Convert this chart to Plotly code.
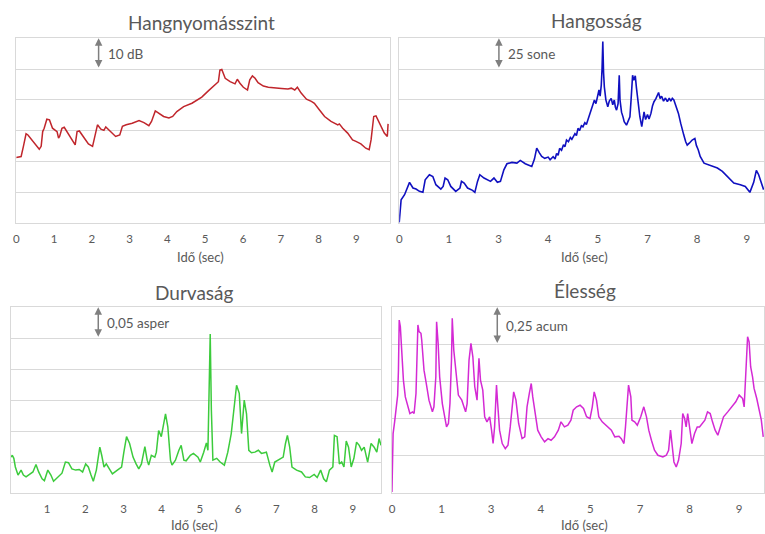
import plotly.graph_objects as go

# ---------------- data ----------------
# Hangnyomásszint (dB)
t_spl = [0, 0.13, 0.19, 0.26, 0.31, 0.44, 0.53, 0.61, 0.66, 0.70, 0.74, 0.81, 0.88, 0.96, 1.08, 1.12, 1.15,
         1.21, 1.27, 1.36, 1.49, 1.56, 1.61, 1.67, 1.80, 1.91, 2.02, 2.09, 2.15, 2.24, 2.32, 2.37, 2.46, 2.54,
         2.63, 2.74, 2.81, 2.91, 3.07, 3.25, 3.38, 3.51, 3.58, 3.68, 3.77, 3.90, 4.04, 4.14, 4.25, 4.43, 4.65,
         4.91, 5.09, 5.26, 5.35, 5.39, 5.44, 5.53, 5.66, 5.79, 5.85, 5.92, 6.01, 6.12, 6.18, 6.25, 6.32, 6.40,
         6.54, 6.67, 6.84, 7.02, 7.19, 7.28, 7.37, 7.44, 7.54, 7.68, 7.81, 7.89, 8.02, 8.16, 8.33, 8.51, 8.55,
         8.64, 8.77, 8.90, 8.99, 9.12, 9.25, 9.34, 9.39, 9.46, 9.52, 9.61, 9.74, 9.82, 9.84]
spl_db = [61.3, 61.6, 64.9, 69.0, 68.6, 66.5, 65.2, 64.0, 64.9, 69.7, 70.8, 73.7, 73.5, 70.8, 69.7, 67.6, 68.2,
          70.8, 71.1, 69.2, 66.5, 65.4, 69.7, 69.9, 67.6, 65.7, 64.9, 69.2, 71.9, 70.5, 70.1, 71.2, 70.1, 69.0,
          68.1, 68.6, 71.4, 71.9, 72.4, 73.3, 72.6, 71.6, 73.0, 76.4, 75.7, 74.6, 74.1, 74.6, 76.2, 77.8, 78.9,
          80.9, 83.0, 84.9, 85.9, 89.7, 89.9, 87.0, 85.9, 85.2, 86.7, 85.4, 84.1, 83.2, 86.5, 87.8, 87.0, 85.6,
          84.5, 84.1, 83.8, 83.7, 83.5, 83.8, 83.2, 84.1, 82.2, 80.2, 79.5, 78.9, 76.8, 74.6, 73.0, 71.9, 72.2,
          70.8, 69.2, 67.0, 66.5, 65.7, 64.3, 63.8, 67.0, 74.6, 74.8, 72.4, 69.2, 68.1, 72.2]

# Hangosság (sone)
t_loud = [0, 0.03, 0.05, 0.14, 0.23, 0.27, 0.36, 0.44, 0.53, 0.62,
          0.68, 0.79, 0.88, 0.96, 1.09, 1.15, 1.20, 1.27, 1.35, 1.48,
          1.59, 1.63, 1.70, 1.79, 1.92, 1.98, 2.05, 2.11, 2.22, 2.30,
          2.39, 2.48, 2.57, 2.65, 2.74, 2.82, 2.95, 3.08, 3.17, 3.30,
          3.47, 3.54,
          3.60, 3.67, 3.73, 3.81, 3.90, 3.95, 4.03, 4.08, 4.12, 4.16,
          4.20, 4.25, 4.30, 4.34, 4.38, 4.43, 4.48, 4.52, 4.55, 4.60,
          4.64, 4.68, 4.72, 4.77, 4.81, 4.86, 4.90, 4.94, 4.98, 5.03,
          5.07, 5.11, 5.15, 5.19, 5.23, 5.26, 5.29, 5.31, 5.33, 5.35,
          5.37, 5.41, 5.46, 5.50, 5.55, 5.59, 5.63, 5.66, 5.69, 5.73,
          5.76, 5.78, 5.82, 5.86, 5.89, 5.95, 6.00, 6.04, 6.07, 6.11,
          6.14, 6.18, 6.21, 6.24, 6.27, 6.30, 6.35, 6.38, 6.41, 6.45,
          6.50, 6.54, 6.59, 6.63, 6.67, 6.72, 6.76, 6.79, 6.83, 6.87,
          6.92, 6.97, 7.02, 7.07, 7.11, 7.15, 7.19, 7.22, 7.27, 7.31,
          7.37, 7.41, 7.45, 7.50, 7.54, 7.60, 7.67, 7.74, 7.78, 7.83,
          7.88, 7.98, 8.15, 8.33, 8.46, 8.59, 8.76, 8.93, 9.06, 9.18,
          9.28, 9.35, 9.41, 9.54]
loud_sone = [0.5, 10.8, 18.9, 23.0, 31.1, 33.0, 28.4, 27.6, 25.7, 24.9,
             35.1, 39.2, 37.8, 31.1, 27.6, 29.7, 36.5, 35.1, 29.7, 25.7,
             28.4, 33.8, 32.4, 28.4, 26.5, 24.9, 33.8, 39.2, 36.5, 35.1,
             33.8, 36.5, 33.0, 33.8, 43.2, 48.1, 49.2, 48.6, 50.8, 48.1,
             45.9, 51.9,
             60.8, 57.0, 54.1, 52.5, 53.5, 51.4, 53.8, 52.0, 56.5, 55.0,
             60.6, 59.0, 63.5, 62.0, 67.4, 66.0, 69.5, 68.0, 70.0, 72.5,
             71.0, 76.9, 75.0, 79.0, 78.2, 81.5, 80.0, 84.0, 86.3, 92.0,
             95.0, 99.8, 97.0, 104.0, 108.0, 103.0, 112.0, 125.0, 147.3, 122.0,
             110.6, 100.0, 94.4, 99.0, 101.2, 96.0, 99.8, 94.0, 91.7, 97.0,
             120.0, 100.0, 90.0, 86.0, 82.2, 79.5, 84.0, 86.3, 100.0, 120.0,
             116.0, 119.5, 110.0, 102.5, 92.0, 86.3, 78.2, 85.0, 90.3, 84.0,
             88.0, 84.5, 89.0, 95.0, 98.5, 101.0, 103.5, 106.0, 101.0, 103.0,
             99.0, 101.5, 98.5, 101.5, 99.0, 101.2, 100.0, 97.2, 93.0, 89.0,
             80.9, 77.0, 71.4, 66.0, 63.3, 65.0, 67.4, 68.7, 63.0, 59.3,
             54.0, 48.6, 46.5, 44.6, 41.9, 37.8, 32.4, 31.1, 29.7, 24.9,
             33.0, 42.7, 39.2, 27.0]

# Durvaság (asper)
t_rough = [0.06, 0.09, 0.13, 0.17, 0.24, 0.32, 0.38, 0.45, 0.54, 0.63,
           0.71, 0.78, 0.87, 0.93, 1.02, 1.10, 1.17, 1.28, 1.39, 1.48,
           1.56, 1.65, 1.75, 1.84, 1.93, 2.01, 2.08, 2.15, 2.21, 2.29,
           2.38, 2.43, 2.49, 2.55, 2.62, 2.71, 2.84, 2.95, 3.01, 3.08,
           3.16, 3.25, 3.33, 3.40, 3.47, 3.56, 3.62, 3.66, 3.73, 3.82,
           3.86, 3.92, 3.99, 4.10, 4.16, 4.23, 4.27, 4.36, 4.45, 4.51,
           4.58, 4.64, 4.75, 4.83, 4.95, 5.01, 5.10, 5.17, 5.21, 5.25,
           5.27, 5.30, 5.34, 5.44, 5.53, 5.64, 5.73, 5.82, 5.89, 5.96,
           6.03, 6.09, 6.16, 6.22, 6.28, 6.35, 6.44, 6.53, 6.61, 6.74,
           6.83, 6.89, 6.96, 7.09, 7.18, 7.24, 7.29, 7.35, 7.41, 7.53,
           7.66, 7.76, 7.87, 7.99, 8.07, 8.16, 8.24, 8.31, 8.39, 8.48,
           8.52, 8.59, 8.65, 8.71, 8.77, 8.83, 8.89, 8.96, 9.03, 9.10,
           9.17, 9.23, 9.30, 9.39, 9.48, 9.56, 9.63, 9.69, 9.74]
rough_asper = [0.058, 0.061, 0.056, 0.042, 0.029, 0.037, 0.029, 0.026, 0.030, 0.034,
               0.046, 0.034, 0.023, 0.020, 0.037, 0.029, 0.019, 0.026, 0.032, 0.050,
               0.049, 0.039, 0.037, 0.038, 0.034, 0.047, 0.042, 0.029, 0.019, 0.037,
               0.074, 0.061, 0.042, 0.047, 0.039, 0.031, 0.037, 0.042, 0.066, 0.091,
               0.080, 0.058, 0.047, 0.039, 0.047, 0.075, 0.053, 0.045, 0.061, 0.058,
               0.066, 0.101, 0.091, 0.128, 0.107, 0.053, 0.045, 0.053, 0.069, 0.077,
               0.053, 0.052, 0.061, 0.064, 0.058, 0.050, 0.066, 0.081, 0.069, 0.255,
               0.257, 0.134, 0.053, 0.056, 0.050, 0.045, 0.066, 0.096, 0.134, 0.174,
               0.161, 0.096, 0.150, 0.128, 0.069, 0.065, 0.066, 0.069, 0.064, 0.066,
               0.045, 0.034, 0.050, 0.054, 0.058, 0.080, 0.093, 0.074, 0.042, 0.037,
               0.034, 0.026, 0.025, 0.030, 0.025, 0.037, 0.023, 0.018, 0.037, 0.042,
               0.093, 0.091, 0.047, 0.050, 0.042, 0.084, 0.074, 0.042, 0.056, 0.082,
               0.077, 0.069, 0.074, 0.050, 0.080, 0.074, 0.066, 0.088, 0.077]

# Élesség (acum)
t_sharp = [0, 0.02, 0.03, 0.07, 0.10, 0.15, 0.17, 0.19, 0.22, 0.26,
           0.30, 0.35, 0.41, 0.47, 0.54, 0.58, 0.63, 0.65, 0.68, 0.71,
           0.76, 0.78, 0.84, 0.90, 0.97, 1.06, 1.10, 1.15, 1.17, 1.21,
           1.25, 1.32, 1.39, 1.43, 1.48, 1.52, 1.56, 1.58, 1.62, 1.67,
           1.74, 1.83, 1.89, 1.93, 1.97, 2.02, 2.07, 2.12, 2.17, 2.23,
           2.28, 2.32, 2.38, 2.43, 2.49, 2.56, 2.61, 2.65, 2.69, 2.74,
           2.77, 2.82, 2.89, 2.97, 3.04, 3.10, 3.19, 3.25, 3.32, 3.41,
           3.48, 3.54, 3.60, 3.65, 3.69, 3.75, 3.82, 3.91, 4.00, 4.09,
           4.17, 4.26, 4.36, 4.43, 4.52, 4.61, 4.69, 4.75, 4.84, 4.93,
           5.02, 5.10, 5.19, 5.25, 5.30, 5.36, 5.42, 5.51, 5.62, 5.75,
           5.84, 5.95, 6.01, 6.08, 6.12, 6.17, 6.20, 6.26, 6.29, 6.36,
           6.43, 6.52, 6.60, 6.67, 6.73, 6.80, 6.88, 6.97, 7.10, 7.19,
           7.25, 7.30, 7.34, 7.39, 7.45, 7.51, 7.58, 7.62, 7.67, 7.71,
           7.75, 7.80, 7.86, 7.93, 8.00, 8.06, 8.14, 8.20, 8.27, 8.34,
           8.40, 8.47, 8.54, 8.60, 8.69, 8.80, 8.90, 9.01, 9.10, 9.19,
           9.23, 9.28, 9.32, 9.36, 9.40, 9.45, 9.49, 9.56, 9.62, 9.68,
           9.73]
sharp_acum = [0.007, 0.243, 0.40, 0.479, 0.535, 0.659, 0.827, 1.164, 1.12, 0.94,
              0.76, 0.647, 0.591, 0.535, 0.546, 0.535, 0.67, 0.872, 1.131, 1.086,
              1.075, 1.03, 0.827, 0.737, 0.625, 0.546, 0.58, 0.782, 1.153, 1.007,
              0.782, 0.602, 0.49, 0.445, 0.468, 0.602, 0.895, 1.176, 0.962, 0.827,
              0.659, 0.625, 0.58, 0.546, 0.602, 0.895, 1.007, 0.917, 0.715, 0.625,
              0.906, 0.76, 0.692, 0.513, 0.479, 0.513, 0.423, 0.333, 0.445, 0.726,
              0.602, 0.423, 0.333, 0.299, 0.321, 0.445, 0.681, 0.625, 0.468, 0.366,
              0.378, 0.58, 0.67, 0.737, 0.647, 0.535, 0.423, 0.378, 0.344, 0.366,
              0.355, 0.378, 0.423, 0.479, 0.445, 0.456, 0.49, 0.557, 0.58, 0.591,
              0.569, 0.513, 0.501, 0.58, 0.681, 0.625, 0.513, 0.479, 0.456, 0.423,
              0.378, 0.382, 0.366, 0.333, 0.445, 0.602, 0.726, 0.647, 0.49, 0.479,
              0.456, 0.513, 0.58, 0.513, 0.423, 0.355, 0.288, 0.254, 0.243, 0.254,
              0.288, 0.423, 0.333, 0.209, 0.175, 0.22, 0.333, 0.535, 0.501, 0.445,
              0.535, 0.445, 0.333, 0.4, 0.445, 0.445, 0.468, 0.49, 0.546, 0.535,
              0.479, 0.423, 0.389, 0.445, 0.513, 0.546, 0.58, 0.614, 0.659, 0.636,
              0.58, 0.827, 1.052, 1.018, 0.85, 0.782, 0.704, 0.636, 0.557, 0.49,
              0.378]

# tick labels
left_tickvals = [0, 1, 2, 3, 4, 5, 6, 7, 8, 9]
left_ticktext = ["0", "1", "2", "3", "4", "5", "6", "7", "8", "9"]
right_tickvals = [0, 1.3, 2.6, 3.9, 5.2, 6.5, 7.8, 9.1]
right_ticktext = ["0", "1", "3", "4", "5", "7", "8", "9"]

titles = ["Hangnyomásszint", "Hangosság", "Durvaság", "Élesség"]
scale_labels = ["10 dB", "25 sone", "0,05 asper", "0,25 acum"]
x_title = "Idő (sec)"

# ---------------- layout helpers ----------------
W, H = 765, 534
FONT = "Lato"
TXT = "#595959"
GRID = "#D9D9D9"


def fx(p):
    return p / W


def fy(p):
    return 1 - p / H


fig = go.Figure()

series = [
    (t_spl, spl_db, "#C0262C", 1.5, "x", "y"),
    (t_loud, loud_sone, "#1010C0", 1.6, "x2", "y2"),
    (t_rough, rough_asper, "#3CCB3C", 1.5, "x3", "y3"),
    (t_sharp, sharp_acum, "#D42AD4", 1.5, "x4", "y4"),
]
for xs, ys, col, lw, xa, ya in series:
    fig.add_trace(go.Scatter(x=xs, y=ys, mode="lines", xaxis=xa, yaxis=ya,
                             line=dict(color=col, width=lw), hoverinfo="skip",
                             showlegend=False))


def xaxis(dom, rng, tv, tt, anchor):
    return dict(domain=dom, range=rng, tickvals=tv, ticktext=tt, anchor=anchor,
                showgrid=False, zeroline=False, showline=True, linecolor=GRID,
                linewidth=1, mirror=True, ticks="", ticklabelstandoff=5,
                tickfont=dict(family=FONT, size=11.5, color=TXT))


def yaxis(dom, rng, dtick, anchor):
    return dict(domain=dom, range=rng, dtick=dtick, tick0=rng[0], anchor=anchor,
                showgrid=True, gridcolor=GRID, gridwidth=1, zeroline=False,
                showline=True, linecolor=GRID, linewidth=1, mirror=True,
                showticklabels=False, ticks="")


top_y = [fy(223), fy(38.3)]
bot_y = [fy(493), fy(307.3)]

y_specs = [([40, 100], 10), ([0, 150], 25), ([0, 0.3], 0.05), ([0, 1.25], 0.25)]

fig.update_layout(
    width=W, height=H,
    margin=dict(l=0, r=0, t=0, b=0),
    paper_bgcolor="white", plot_bgcolor="white",
    xaxis=xaxis([fx(13.3), fx(389)], [0, 9.89], left_tickvals, left_ticktext, "y"),
    yaxis=yaxis(top_y, *y_specs[0], "x"),
    xaxis2=xaxis([fx(398.3), 1.0], [0, 9.55], right_tickvals, right_ticktext, "y2"),
    yaxis2=yaxis(top_y, *y_specs[1], "x2"),
    xaxis3=xaxis([fx(8), fx(380)], [0.055, 9.74], left_tickvals, left_ticktext, "y3"),
    yaxis3=yaxis(bot_y, *y_specs[2], "x3"),
    xaxis4=xaxis([fx(391), 1.0], [0, 9.75], right_tickvals, right_ticktext, "y4"),
    yaxis4=yaxis(bot_y, *y_specs[3], "x4"),
)

annotations = []

# chart titles and x-axis titles
title_pos = [(200, 22.5), (597, 20.5), (193, 292.5), (585, 290.5)]
xtitle_pos = [(199, 257), (585, 257), (193, 525), (585, 525)]
for text, (px, py) in zip(titles, title_pos):
    annotations.append(dict(text=text, x=fx(px), y=fy(py), xref="paper", yref="paper",
                            xanchor="center", yanchor="middle", showarrow=False,
                            font=dict(family=FONT, size=19, color=TXT)))
for (px, py) in xtitle_pos:
    annotations.append(dict(text=x_title, x=fx(px), y=fy(py), xref="paper", yref="paper",
                            xanchor="center", yanchor="middle", showarrow=False,
                            font=dict(family=FONT, size=13, color=TXT)))

# double-headed scale arrows spanning one gridline interval
arrow_x = [2.18, 2.61, 2.34, 2.76]
axes = [("x", "y"), ("x2", "y2"), ("x3", "y3"), ("x4", "y4")]
for (xa, ya), ax_t, (rng, step), label in zip(axes, arrow_x, y_specs, scale_labels):
    top = rng[1]
    annotations.append(dict(text="", x=ax_t, y=top, xref=xa, yref=ya,
                            ax=ax_t, ay=top - step, axref=xa, ayref=ya,
                            showarrow=True, arrowside="end+start",
                            arrowhead=2, startarrowhead=2, arrowsize=1, startarrowsize=1,
                            arrowwidth=1.5, arrowcolor="#7F7F7F"))
    annotations.append(dict(text=label, x=ax_t, y=top - step / 2, xref=xa, yref=ya,
                            xanchor="left", yanchor="middle", xshift=7, showarrow=False,
                            font=dict(family=FONT, size=13.5, color=TXT)))

fig.update_layout(annotations=annotations)

fig.write_html("out.html")
